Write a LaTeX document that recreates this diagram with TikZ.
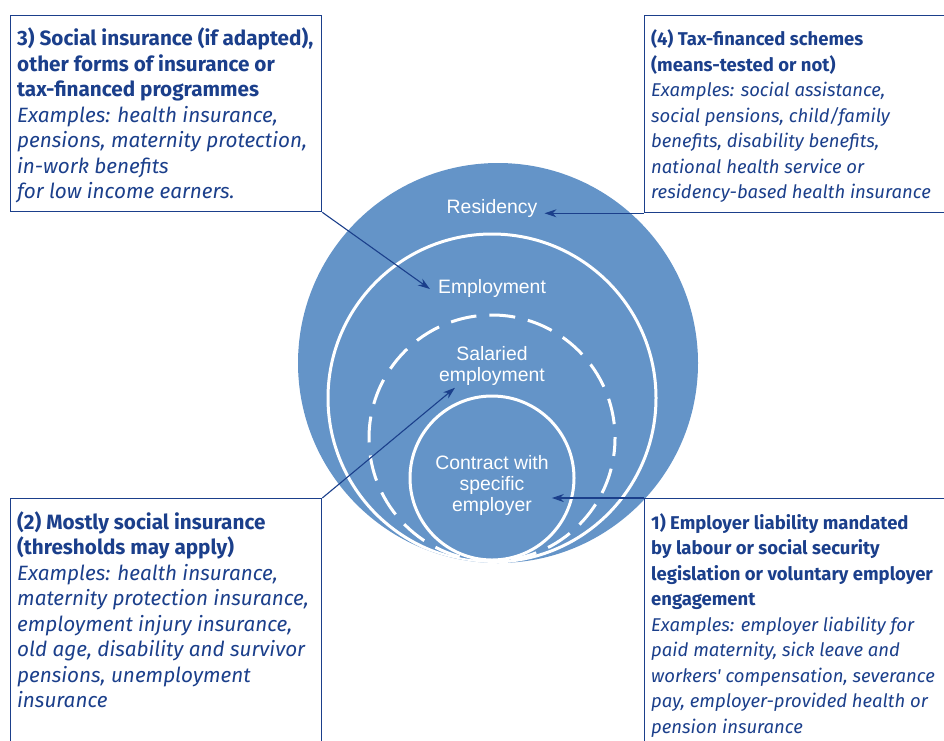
\documentclass[tikz,border=0pt]{standalone}
\usepackage{fontspec}
\setmainfont{Liberation Sans}
\newfontfamily\boxfont{Fira Sans}
\newfontfamily\circfont{Liberation Sans}
\usetikzlibrary{arrows.meta,calc}
\definecolor{circblue}{HTML}{6494C8}
\definecolor{navy}{HTML}{1B3F8B}
\tikzset{
  x=1pt, y=-1pt,
  frame/.style={draw=navy, line width=1.3pt, inner sep=0pt, anchor=north west},
  boxtext/.style={text=navy, font=\boxfont\fontsize{20.7}{25.5}\selectfont, align=left, anchor=north west, inner sep=0pt},
  boxtextr/.style={boxtext, font=\boxfont\fontsize{18.5}{25.5}\selectfont},
  circtext/.style={text=white, font=\circfont\fontsize{19.4}{21}\selectfont, align=center, inner sep=2pt},
  ring/.style={draw=white, line width=3pt},
  pointer/.style={draw=navy, line width=1.1pt, -{Stealth[length=12pt,width=8pt]}},
}
\begin{document}
\begin{tikzpicture}
\useasboundingbox (0,0) rectangle (944,740);
\clip (0,0) rectangle (944,740);
% circles
\fill[circblue] (498,363) circle[radius=200];
\begin{scope}
  \clip (498,363) circle[radius=200];
  \draw[ring] (492,398) circle[radius=164];
  \draw[ring, dash pattern=on 26pt off 13pt, dash phase=8pt] (492,438) circle[radius=123];
  \draw[ring] (492,478) circle[radius=82];
\end{scope}
% circle labels
\node[circtext] (res) at (492,208) {Residency};
\node[circtext] (emp) at (492,288) {Employment};
\node[circtext] (sal) at (492,366) {Salaried\\employment};
\node[circtext] (con) at (492,485) {Contract with\\specific\\employer};
% frames
\node[frame, minimum width=311pt, minimum height=196pt] (box3) at (10,15) {};
\node[frame, minimum width=330pt, minimum height=197pt] (box4) at (644,15) {};
\node[frame, minimum width=311pt, minimum height=260pt] (box2) at (10,498) {};
\node[frame, minimum width=330pt, minimum height=260pt] (box1) at (644,498) {};
% texts
\node[boxtext] (t3) at (17,28) {\textbf{3) Social insurance (if adapted),}\\\textbf{other forms of insurance or}\\\textbf{tax-financed programmes}\\\textit{Examples: health insurance,}\\\textit{pensions, maternity protection,}\\\textit{in-work benefits}\\\textit{for low income earners.}};
\node[boxtextr] (t4) at (651,29.5) {\textbf{(4) Tax-financed schemes}\\\textbf{(means-tested or not)}\\\textit{Examples: social assistance,}\\\textit{social pensions, child/family}\\\textit{benefits, disability benefits,}\\\textit{national health service or}\\\textit{residency-based health insurance}};
\node[boxtext] (t2) at (17,511.5) {\textbf{(2) Mostly social insurance}\\\textbf{(thresholds may apply)}\\\textit{Examples: health insurance,}\\\textit{maternity protection insurance,}\\\textit{employment injury insurance,}\\\textit{old age, disability and survivor}\\\textit{pensions, unemployment}\\\textit{insurance}};
\node[boxtextr] (t1) at (651,513) {\textbf{1) Employer liability mandated}\\\textbf{by labour or social security}\\\textbf{legislation or voluntary employer}\\\textbf{engagement}\\\textit{Examples: employer liability for}\\\textit{paid maternity, sick leave and}\\\textit{workers' compensation, severance}\\\textit{pay, employer-provided health or}\\\textit{pension insurance}};
% pointers
\draw[pointer] (box3.south east) -- ([xshift=-6pt,yshift=-1pt]emp.west);
\draw[pointer] (box4.south west) -- ([xshift=5pt]res.east |- box4.south west);
\draw[pointer] (box2.north east) -- ([xshift=18pt,yshift=0pt]sal.south west);
\draw[pointer] (box1.north west) -- ([xshift=1pt]con.east |- box1.north west);
\end{tikzpicture}
\end{document}
